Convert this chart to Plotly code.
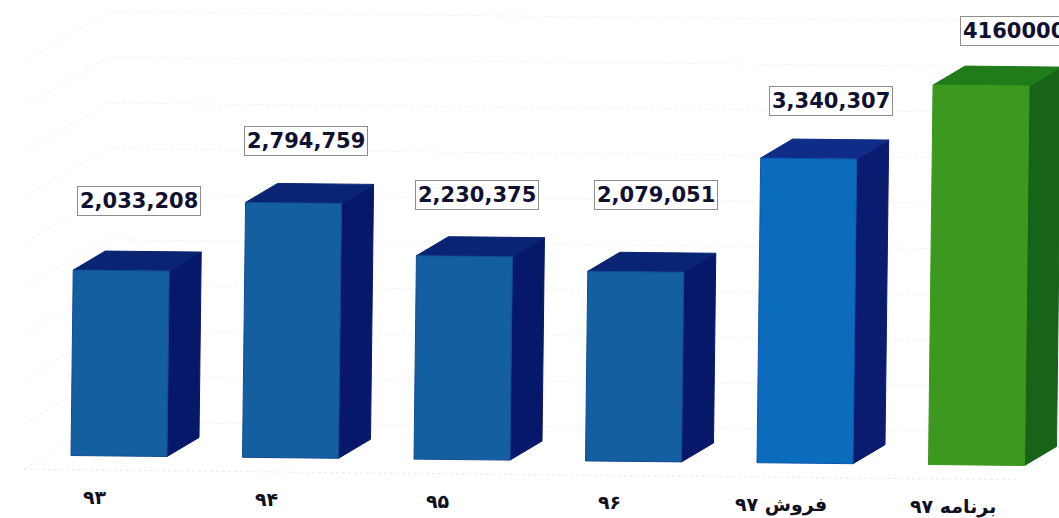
import plotly.graph_objects as go

# --- data ---
categories = ["۹۳", "۹۴", "۹۵", "۹۶", "فروش ۹۷", "برنامه ۹۷"]
values = [2033208, 2794759, 2230375, 2079051, 3340307, 4160000]
value_labels = ["2,033,208", "2,794,759", "2,230,375", "2,079,051", "3,340,307", "4160000"]
grid_values = [0, 500000, 1000000, 1500000, 2000000, 2500000, 3000000, 3500000, 4000000, 4500000]

# --- style ---
front_colors = ["#135f9f", "#135f9f", "#135f9f", "#135f9f", "#0b6cbd", "#3d981f"]
top_colors = ["#0a2474", "#0a2474", "#0a2474", "#0a2474", "#0e2c88", "#1f7c18"]
side_colors = ["#07176a", "#07176a", "#07176a", "#07176a", "#0a1b70", "#176419"]
edge_colors = ["#124a96", "#124a96", "#124a96", "#124a96", "#0f56ad", "#3d981f"]

W, H = 1059, 518
PX_PER_CAT = 171.5
PX_PER_VAL = 91.2e-6
X0_PX, Y0_PX = 119, 456

BAR_HALF = 48 / PX_PER_CAT
DEPTH_X = 32 / PX_PER_CAT
DEPTH_Y = 19 / PX_PER_VAL
TILT = 1.8 / PX_PER_VAL          # the whole chart is slightly rotated
LEAN = 0.012 * PX_PER_VAL / PX_PER_CAT


def pt(cat, val, depth=0.0):
    return (cat + LEAN * val + depth * DEPTH_X,
            val - TILT * cat + depth * DEPTH_Y)


def poly(points, fill, line=None):
    pts = [pt(*p) for p in points]
    pts.append(pts[0])
    return go.Scatter(
        x=[p[0] for p in pts], y=[p[1] for p in pts],
        mode="lines", fill="toself", fillcolor=fill,
        line=dict(color=line or fill, width=1),
        hoverinfo="skip", showlegend=False,
    )


fig = go.Figure()

# faint back wall / side wall grid
c_left = (24 - X0_PX + 0.74 * 32) / PX_PER_CAT
c_right = (W + 20 - X0_PX) / PX_PER_CAT
for g in grid_values:
    pts = [pt(c_left, g, -0.74), pt(c_left, g, 1.74), pt(c_right, g, 1.74)]
    fig.add_trace(go.Scatter(
        x=[p[0] for p in pts], y=[p[1] for p in pts], mode="lines",
        line=dict(color="#f1f1f1", width=1, dash="dot"),
        hoverinfo="skip", showlegend=False,
    ))
floor = [pt(c_left, 0, -0.74), pt((1040 - X0_PX) / PX_PER_CAT, 0, -0.74)]
fig.add_trace(go.Scatter(
    x=[p[0] for p in floor], y=[p[1] for p in floor], mode="lines",
    line=dict(color="#ebebeb", width=1, dash="dot"),
    hoverinfo="skip", showlegend=False,
))

# 3-D looking bars
for i, v in enumerate(values):
    l, r = i - BAR_HALF, i + BAR_HALF
    fig.add_trace(poly([(r, 0, 0), (r, v, 0), (r, v, 1), (r, 0, 1)], side_colors[i]))
    fig.add_trace(poly([(l, v, 0), (l, v, 1), (r, v, 1), (r, v, 0)], top_colors[i]))
    fig.add_trace(poly([(l, 0, 0), (l, v, 0), (r, v, 0), (r, 0, 0)], front_colors[i], edge_colors[i]))

# value labels: offset from the bar top, in pixels
label_dx = [18, 12, 13, 20, 22, 33]
label_dy = [70, 62, 61, 77, 58, 55]
annotations = []
for i, v in enumerate(values):
    x, y = pt(i, v)
    annotations.append(dict(
        x=x, y=y, xref="x", yref="y", text=value_labels[i], showarrow=False,
        xshift=label_dx[i], yshift=label_dy[i],
        font=dict(family="DejaVu Sans", size=21, color="#101030", weight="bold"),
        bgcolor="#ffffff", bordercolor="#8c8c8c", borderwidth=1, borderpad=2,
    ))

# category labels follow the tilted floor
for i, c in enumerate(categories):
    x, y = pt(i, 0)
    annotations.append(dict(
        x=x, y=y, xref="x", yref="y", text=c, showarrow=False,
        xshift=-24, yshift=-41,
        font=dict(family="DejaVu Sans", size=19, color="#101020", weight="bold"),
    ))

fig.update_layout(
    width=W, height=H, margin=dict(l=0, r=0, t=0, b=0),
    paper_bgcolor="#ffffff", plot_bgcolor="#ffffff",
    showlegend=False, annotations=annotations,
    xaxis=dict(range=[-X0_PX / PX_PER_CAT, (W - X0_PX) / PX_PER_CAT],
               visible=False, fixedrange=True),
    yaxis=dict(range=[-(H - Y0_PX) / PX_PER_VAL, Y0_PX / PX_PER_VAL],
               visible=False, fixedrange=True),
)

fig.write_html("out.html", config={"displayModeBar": False},
               post_script="document.body.style.margin='0';")
